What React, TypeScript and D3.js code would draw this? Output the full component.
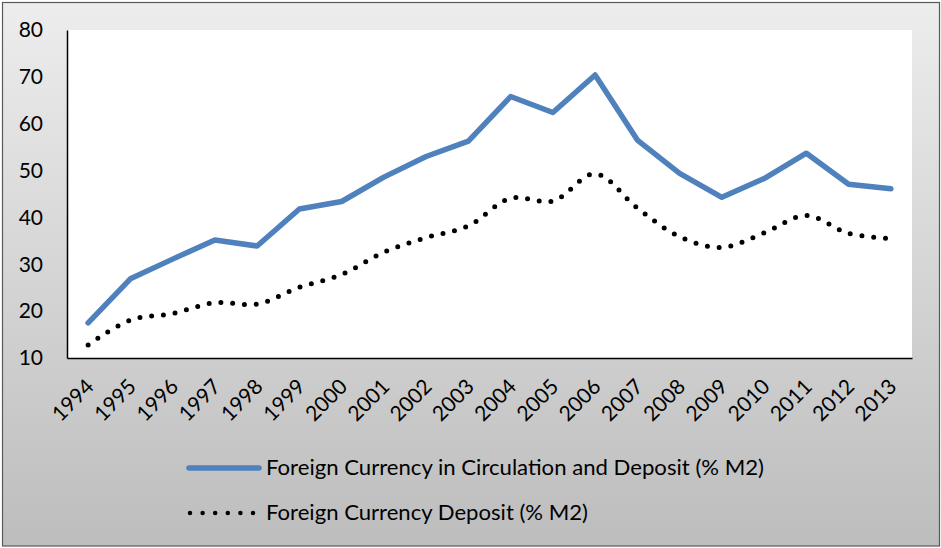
import React, { useEffect, useRef } from "react";
import * as d3 from "d3";

const years = ["1994","1995","1996","1997","1998","1999","2000","2001","2002","2003","2004","2005","2006","2007","2008","2009","2010","2011","2012","2013"];
const circulationAndDeposit = [17.5,26.9,31.1,35.2,33.9,41.8,43.4,48.6,53.0,56.3,65.8,62.4,70.4,56.5,49.4,44.3,48.3,53.7,47.1,46.1];
const depositOnly = [12.8,18.1,19.5,21.8,21.5,25.1,27.8,32.6,35.7,38.2,44.1,43.5,49.3,42.0,35.9,33.6,36.7,40.4,36.6,35.5];
const yTicks = [10,20,30,40,50,60,70,80];
const legendLabels = ["Foreign Currency in Circulation and Deposit (% M2)", "Foreign Currency Deposit (% M2)"];

const W = 941, H = 548;
const FONT = "Lato, 'Noto Sans', sans-serif";

export default function App() {
  const ref = useRef<SVGSVGElement>(null);

  useEffect(() => {
    document.body.style.margin = "0";
    const svg = d3.select(ref.current);
    svg.selectAll("*").remove();

    const left = 67, right = 912, top = 30, bottom = 358;
    const x = d3.scaleBand().domain(years).range([left, right]);
    const y = d3.scaleLinear().domain([10, 80]).range([bottom, top]);
    const cx = (d: string) => (x(d) as number) + x.bandwidth() / 2;

    // background
    const grad = svg.append("defs").append("linearGradient")
      .attr("id", "bg").attr("x1", 0).attr("y1", 0).attr("x2", 0).attr("y2", 1);
    grad.append("stop").attr("offset", "0%").attr("stop-color", "#ededed");
    grad.append("stop").attr("offset", "100%").attr("stop-color", "#bdbdbd");
    svg.append("rect").attr("x", 2.5).attr("y", 2.5).attr("width", W - 4).attr("height", H - 4.5)
      .attr("fill", "url(#bg)").attr("stroke", "#595959").attr("stroke-width", 1.2);

    svg.append("rect").attr("x", left).attr("y", top).attr("width", right - left).attr("height", bottom - top)
      .attr("fill", "#fff");

    // axes
    const ya = svg.append("g").attr("transform", `translate(${left},0)`)
      .call(d3.axisLeft(y).tickValues(yTicks).tickSize(0).tickPadding(24));
    ya.select(".domain").attr("stroke", "#000").attr("stroke-width", 1.5);
    ya.selectAll("text").attr("font-family", FONT).attr("font-size", 21).attr("fill", "#000");

    const xa = svg.append("g").attr("transform", `translate(0,${bottom})`)
      .call(d3.axisBottom(x).tickSize(0).tickPadding(0));
    xa.select(".domain").attr("stroke", "#000").attr("stroke-width", 1.5);
    xa.selectAll("text")
      .attr("font-family", FONT).attr("font-size", 21).attr("fill", "#000")
      .attr("text-anchor", "end").attr("dy", null).attr("y", null)
      .attr("transform", "translate(7,30) rotate(-45)");

    const line = d3.line<number>().x((_, i) => cx(years[i])).y((d) => y(d));
    svg.append("path").datum(circulationAndDeposit)
      .attr("d", line).attr("fill", "none").attr("stroke", "#4f81bd")
      .attr("stroke-width", 5.5).attr("stroke-linejoin", "round").attr("stroke-linecap", "round");

    const smooth = d3.line<number>().x((_, i) => cx(years[i])).y((d) => y(d)).curve(d3.curveCatmullRom.alpha(0.5));
    svg.append("path").datum(depositOnly)
      .attr("d", smooth).attr("fill", "none").attr("stroke", "#000")
      .attr("stroke-width", 5).attr("stroke-dasharray", "0 11.8").attr("stroke-linecap", "round");

    // legend
    const lg = svg.append("g");
    lg.append("line").attr("x1", 189).attr("x2", 259).attr("y1", 468).attr("y2", 468)
      .attr("stroke", "#4f81bd").attr("stroke-width", 5.5).attr("stroke-linecap", "round");
    lg.append("line").attr("x1", 190).attr("x2", 254).attr("y1", 513).attr("y2", 513)
      .attr("stroke", "#000").attr("stroke-width", 4.5).attr("stroke-dasharray", "0 12.6").attr("stroke-linecap", "round");
    lg.selectAll("text").data(legendLabels).join("text")
      .attr("x", 266).attr("y", (_, i) => 468 + i * 45).attr("dy", "0.35em")
      .attr("font-family", FONT).attr("font-size", 21).attr("fill", "#000")
      .attr("textLength", (_, i) => (i === 0 ? 498 : 322)).attr("lengthAdjust", "spacingAndGlyphs")
      .text((d) => d);
  }, []);

  return <svg ref={ref} width={W} height={H} style={{ display: "block" }} />;
}
